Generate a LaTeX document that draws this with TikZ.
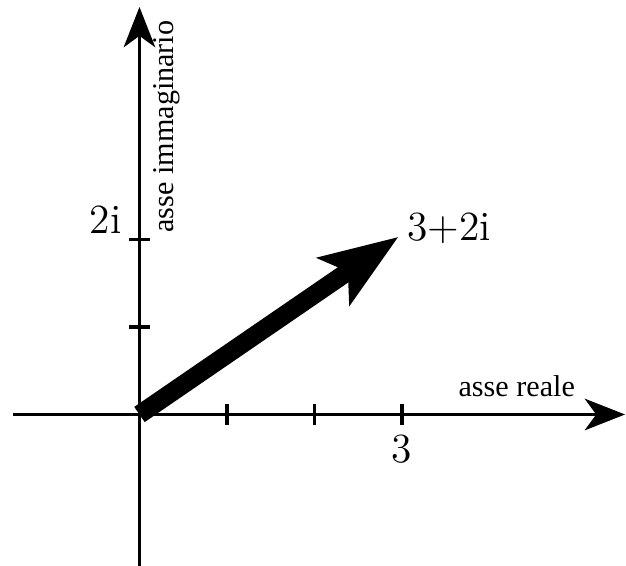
\documentclass[tikz,border=0pt]{standalone}
\usepackage{fontspec}
\newfontfamily\labelfont{Liberation Serif}
\usetikzlibrary{arrows.meta}

\begin{document}
\begin{tikzpicture}[
  axis/.style={line width=1.1pt, -{Stealth[length=4.6mm, width=3.6mm, inset=1.3mm]}},
  tickmark/.style={line width=1.1pt},
  num/.style={font=\fontsize{13.5}{16}\selectfont, inner sep=0pt},
  axlabel/.style={font=\labelfont\fontsize{9.8}{12}\selectfont, inner sep=0pt},
  vec/.style={line width=6pt, -{Stealth[length=8.9mm, width=6.4mm, inset=1.9mm]}}
]
\useasboundingbox (-1.594,-1.731) rectangle (5.560,4.737);
% axes
\coordinate (O) at (0,0);
\coordinate (xmin) at (-1.446,0);
\coordinate (xmax) at (5.549,0);
\coordinate (ymin) at (0,-1.731);
\coordinate (ymax) at (0,4.657);
\draw[axis] (xmin) -- (xmax);
\draw[axis] (ymin) -- (ymax);
\foreach \x in {1,2,3}
  \draw[tickmark] (\x,-0.12) -- (\x,0.12);
\foreach \y in {1,2}
  \draw[tickmark] (-0.12,\y) -- (0.12,\y);
% labels
\node[axlabel, anchor=base west] (re) at (3.64,0.2) {asse reale};
\node[axlabel, rotate=90, anchor=base west] (im) at (0.394,2.074) {asse immaginario};
\node[num, anchor=base] (three) at (3,-0.55) {3};
\node[num, anchor=base east] (twoi) at (-0.2,2.07) {2i};
% the number 3+2i
\coordinate (Z) at (2.96,2.03);
\draw[vec] (O) -- (Z);
\node[num, anchor=base west] (zlabel) at (3.057,1.994) {3+2i};
\end{tikzpicture}
\end{document}
